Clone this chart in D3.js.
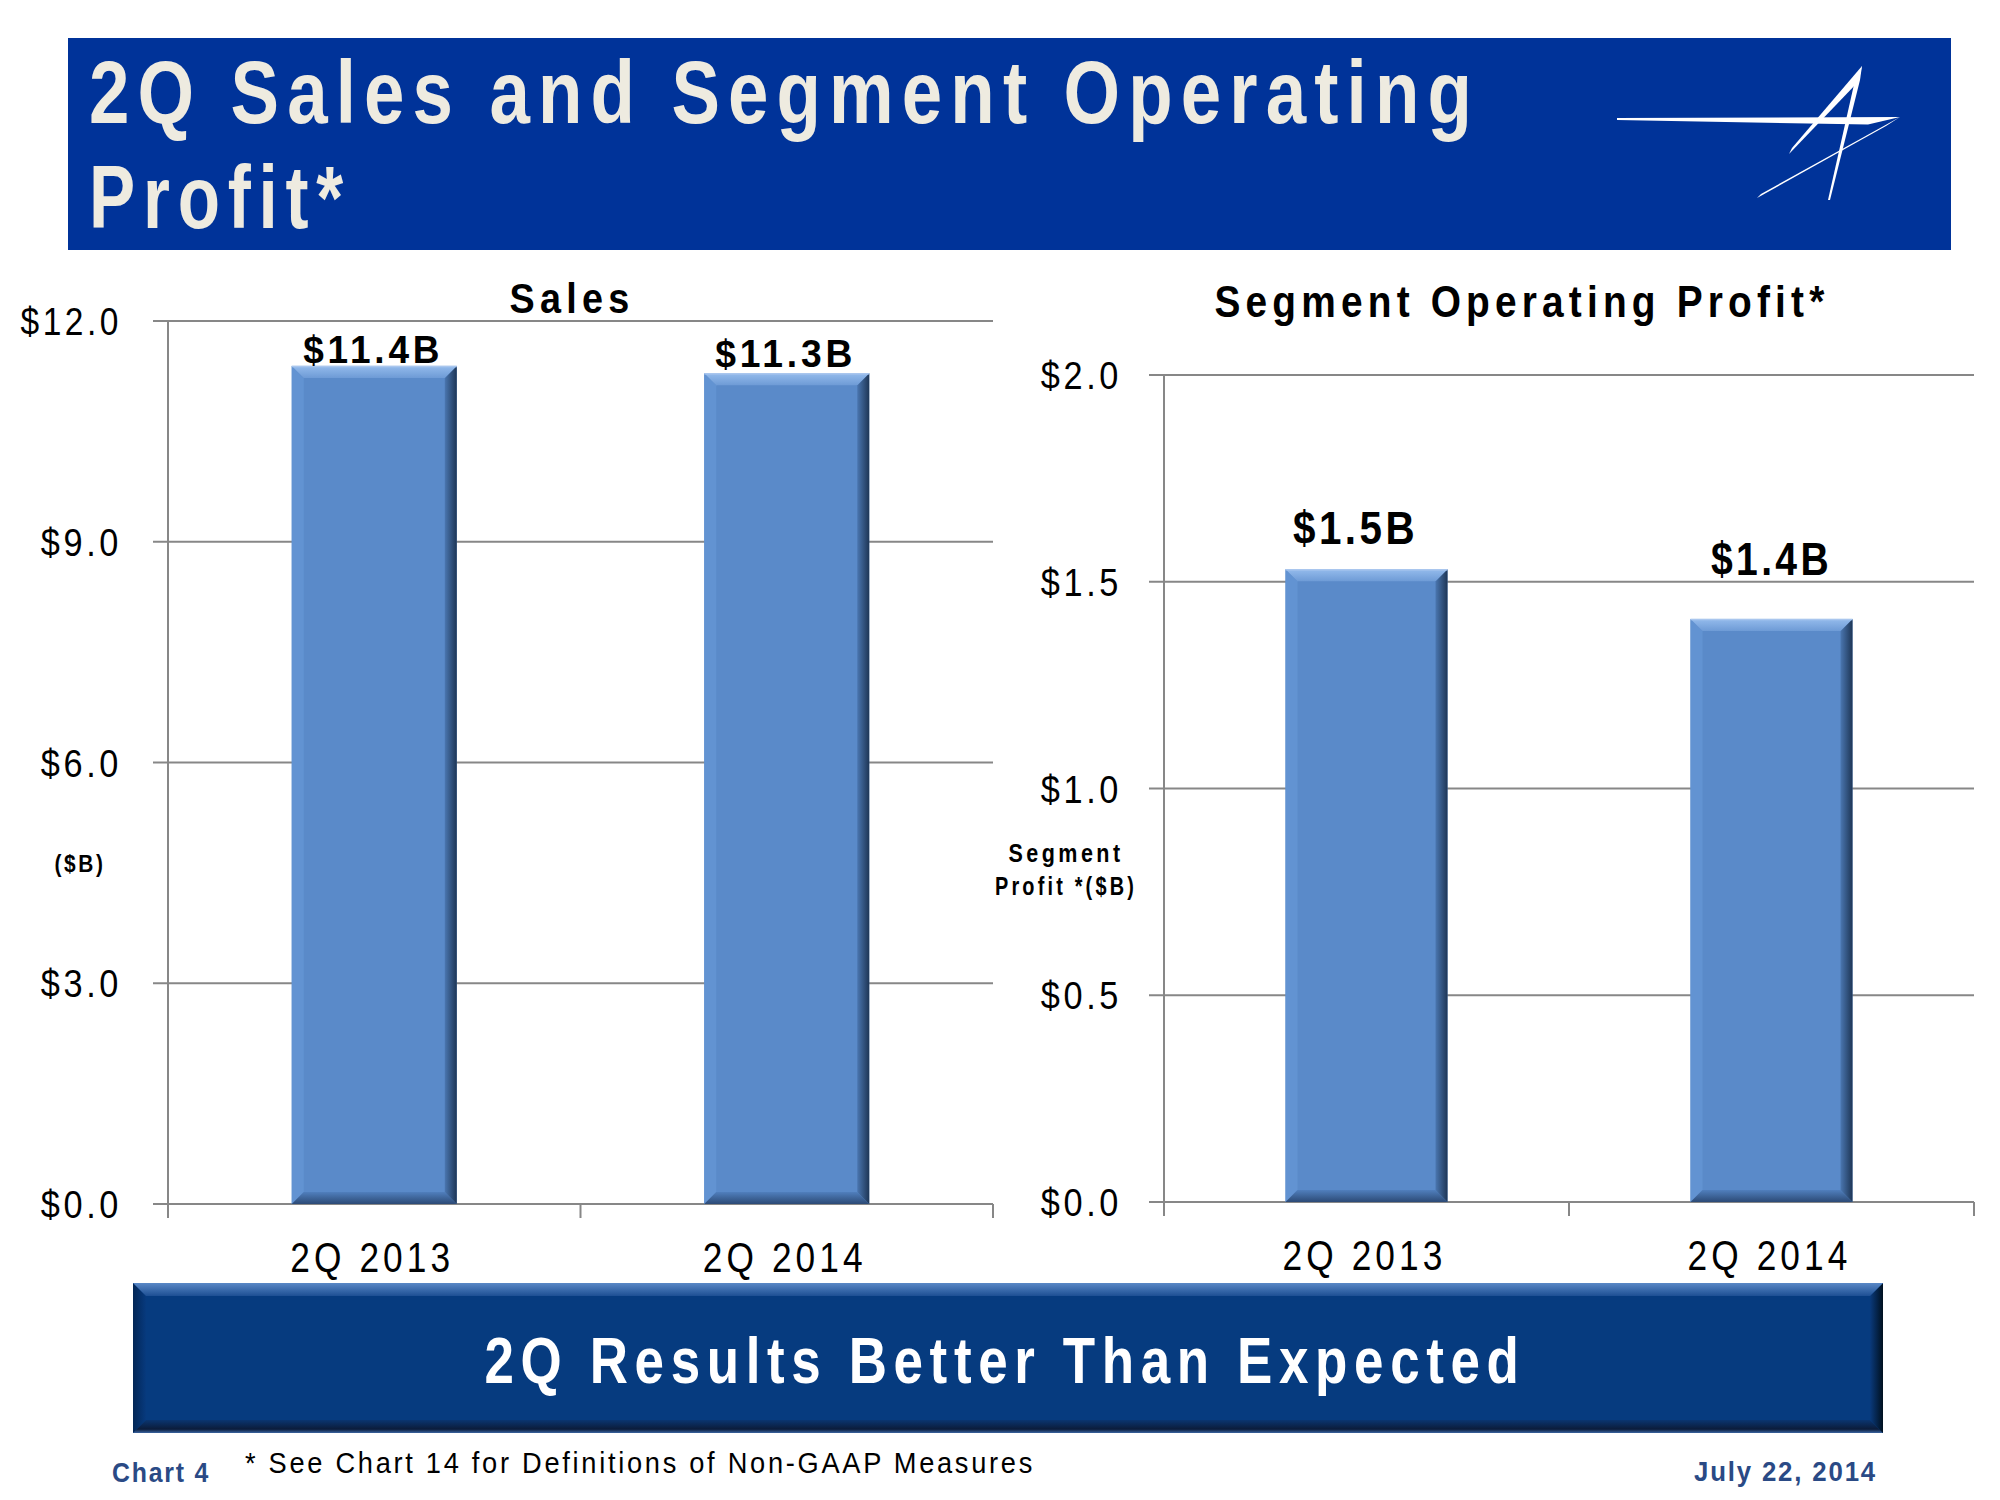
<!DOCTYPE html>
<html>
<head>
<meta charset="utf-8">
<script src="https://cdn.jsdelivr.net/npm/d3@7"></script>
<style>
  html, body { margin: 0; padding: 0; background: #ffffff; }
  svg { display: block; }
  text { font-family: "Liberation Sans Narrow", "Arial Narrow", "Liberation Sans", Arial, sans-serif; }
</style>
</head>
<body>
<svg id="chart" width="2000" height="1500"></svg>
<script>
// ---------- data ----------
const categories = ["2Q 2013", "2Q 2014"];
const salesValues = [11.39, 11.29];
const salesLabels = ["$11.4B", "$11.3B"];
const profitValues = [1.53, 1.41];
const profitLabels = ["$1.5B", "$1.4B"];
const salesTicks = [0, 3, 6, 9, 12];
const salesTickLabels = ["$0.0", "$3.0", "$6.0", "$9.0", "$12.0"];
const profitTicks = [0, 0.5, 1.0, 1.5, 2.0];
const profitTickLabels = ["$0.0", "$0.5", "$1.0", "$1.5", "$2.0"];

const titleLines = ["2Q Sales and Segment Operating", "Profit*"];
const bannerText = "2Q Results Better Than Expected";
const footnote = "* See Chart 14 for Definitions of Non-GAAP Measures";
const chartNo = "Chart 4";
const dateText = "July 22, 2014";

// ---------- setup ----------
const svg = d3.select("#chart");
const defs = svg.append("defs");

function fit(sel, w, ls) {
  sel.attr("letter-spacing", ls || 0).attr("textLength", w).attr("lengthAdjust", "spacingAndGlyphs");
  return sel;
}

function lin(id, x1, y1, x2, y2, stops) {
  const g = defs.append("linearGradient").attr("id", id)
    .attr("x1", x1).attr("y1", y1).attr("x2", x2).attr("y2", y2);
  stops.forEach(s => g.append("stop").attr("offset", s[0]).attr("stop-color", s[1]));
}
lin("barRight", 0, 0, 1, 0, [[0, "#4a76b0"], [1, "#1e3656"]]);
lin("barTop", 0, 0, 0, 1, [[0, "#94bbec"], [1, "#6e9bd6"]]);
lin("barBottom", 0, 0, 0, 1, [[0, "#507fbd"], [1, "#2c4a76"]]);
lin("banTop", 0, 0, 0, 1, [[0, "#5a88c6"], [1, "#1d4f93"]]);
lin("banBottom", 0, 0, 0, 1, [[0, "#0a3570"], [0.7, "#0b1c3a"], [1, "#3a64a0"]]);
lin("banRight", 0, 0, 1, 0, [[0, "#0a3a7c"], [1, "#00101f"]]);
lin("banLeft", 0, 0, 1, 0, [[0, "#022656"], [1, "#073a7e"]]);

// ---------- title banner ----------
svg.append("rect").attr("x", 68).attr("y", 38).attr("width", 1883).attr("height", 212)
  .attr("fill", "#003399");
svg.selectAll("text.title").data(titleLines).enter().append("text")
  .attr("class", "title")
  .attr("x", 89).attr("y", (d, i) => i === 0 ? 123 : 228)
  .attr("fill", "#eeebe0").attr("font-size", 89).attr("font-weight", "bold")
  .text(d => d)
  .each(function (d, i) { fit(d3.select(this), i === 0 ? 1391 : 262, 10); });

// logo
const logo = svg.append("g").attr("fill", "#ffffff");
[
  [[1617, 118], [1900, 117], [1868, 124.5], [1617, 120]],
  [[1900, 117], [1886, 126], [1757, 198], [1761, 194]],
  [[1862, 66], [1858, 82], [1789, 154], [1792, 148]],
  [[1862, 66], [1860, 80], [1830, 200], [1828, 200], [1855, 80]]
].forEach(p => logo.append("path").attr("d", d3.line()(p) + "Z"));

// ---------- bar drawing helper ----------
function drawBar(g, x0, x1, yTop, yBot) {
  const b = 12;
  g.append("rect").attr("x", x0).attr("y", yTop).attr("width", x1 - x0).attr("height", yBot - yTop)
    .attr("fill", "#5a8ac9");
  g.append("path").attr("d", d3.line()([[x0, yTop], [x0 + b, yTop + b], [x0 + b, yBot - b], [x0, yBot]]) + "Z")
    .attr("fill", "#6293d2");
  g.append("path").attr("d", d3.line()([[x0, yBot], [x1, yBot], [x1 - b, yBot - b], [x0 + b, yBot - b]]) + "Z")
    .attr("fill", "url(#barBottom)");
  g.append("path").attr("d", d3.line()([[x1, yTop], [x1, yBot], [x1 - b, yBot - b], [x1 - b, yTop + b]]) + "Z")
    .attr("fill", "url(#barRight)");
  g.append("path").attr("d", d3.line()([[x0, yTop], [x1, yTop], [x1 - b, yTop + b], [x0 + b, yTop + b]]) + "Z")
    .attr("fill", "url(#barTop)");
  g.append("line").attr("x1", x0).attr("x2", x1).attr("y1", yTop + 0.5).attr("y2", yTop + 0.5)
    .attr("stroke", "#a9c6ee").attr("stroke-width", 1.5);
}

// ---------- panel ----------
function panel(cfg) {
  const g = svg.append("g");
  const x = d3.scaleBand().domain(categories).range([cfg.left, cfg.right]).padding(0);
  const y = d3.scaleLinear().domain(cfg.domain).range([cfg.bottom, cfg.top]);
  const barW = x.bandwidth() * 0.4;

  // gridlines
  g.selectAll("line.grid").data(cfg.ticks).enter().append("line")
    .attr("x1", cfg.left - 15).attr("x2", cfg.right)
    .attr("y1", d => y(d)).attr("y2", d => y(d))
    .attr("stroke", "#878787").attr("stroke-width", 2);
  // vertical axis
  g.append("line").attr("x1", cfg.left).attr("x2", cfg.left)
    .attr("y1", y(cfg.domain[1])).attr("y2", cfg.bottom + 14)
    .attr("stroke", "#878787").attr("stroke-width", 2);
  // category separators
  const seps = categories.map(c => x(c) + x.bandwidth());
  g.selectAll("line.sep").data(seps).enter().append("line")
    .attr("x1", d => d).attr("x2", d => d).attr("y1", cfg.bottom).attr("y2", cfg.bottom + 14)
    .attr("stroke", "#878787").attr("stroke-width", 2);

  // y tick labels through d3 axis
  const ax = d3.axisLeft(y).tickValues(cfg.ticks).tickSize(0).tickPadding(0)
    .tickFormat((d, i) => cfg.tickLabels[i]);
  const axG = g.append("g").attr("transform", `translate(${cfg.tickRight},0)`).call(ax);
  axG.select(".domain").remove();
  axG.selectAll("text").attr("font-size", 38).attr("fill", "#000")
    .attr("font-family", "\"Liberation Sans Narrow\", \"Arial Narrow\", \"Liberation Sans\", Arial, sans-serif")
    .attr("dy", "0.36em")
    .each(function () {
      const t = d3.select(this);
      fit(t, t.text().length * 20.3, 4);
    });

  // bars
  cfg.values.forEach((v, i) => {
    const cx = x(categories[i]) + x.bandwidth() / 2;
    drawBar(g, cx - barW / 2, cx + barW / 2, y(v), y(0));
  });

  // value labels
  g.selectAll("text.vlab").data(cfg.values).enter().append("text")
    .attr("class", "vlab")
    .attr("x", (d, i) => x(categories[i]) + x.bandwidth() / 2 + cfg.labelDx[i])
    .attr("y", (d, i) => y(d) - cfg.labelGap[i])
    .attr("text-anchor", "middle").attr("font-size", cfg.labelSize).attr("font-weight", "bold")
    .text((d, i) => cfg.labels[i])
    .each(function (d, i) { fit(d3.select(this), cfg.labelW[i], 4); });

  // category labels
  g.selectAll("text.cat").data(categories).enter().append("text")
    .attr("class", "cat")
    .attr("x", d => x(d) + x.bandwidth() / 2 - 2)
    .attr("y", cfg.catY)
    .attr("text-anchor", "middle").attr("font-size", 43)
    .text(d => d)
    .each(function () { fit(d3.select(this), 164, 5); });

  // panel title
  fit(g.append("text").attr("x", cfg.titleX).attr("y", cfg.titleY)
    .attr("text-anchor", "middle").attr("font-size", cfg.titleSize).attr("font-weight", "bold")
    .text(cfg.title), cfg.titleW, 6);
  return g;
}

panel({
  left: 168, right: 993, top: 321, bottom: 1204, domain: [0, 12],
  ticks: salesTicks, tickLabels: salesTickLabels, tickRight: 122,
  values: salesValues, labels: salesLabels, labelGap: [3, 6], labelDx: [-1, -1], labelW: [140, 141], labelSize: 39,
  catY: 1272, title: "Sales", titleX: 572, titleY: 313, titleSize: 43, titleW: 125
});
panel({
  left: 1164, right: 1974, top: 375, bottom: 1202, domain: [0, 2],
  ticks: profitTicks, tickLabels: profitTickLabels, tickRight: 1122,
  values: profitValues, labels: profitLabels, labelGap: [25, 44], labelDx: [-11, 0], labelW: [125, 121], labelSize: 47,
  catY: 1270, title: "Segment Operating Profit*", titleX: 1522, titleY: 317, titleSize: 45, titleW: 615
});

// axis unit labels
fit(svg.append("text").attr("x", 80).attr("y", 872).attr("text-anchor", "middle")
  .attr("font-size", 24).attr("font-weight", "bold").text("($B)"), 51, 3);
fit(svg.append("text").attr("x", 1066).attr("y", 862).attr("text-anchor", "middle")
  .attr("font-size", 25).attr("font-weight", "bold").text("Segment"), 115, 4);
fit(svg.append("text").attr("x", 1066).attr("y", 895).attr("text-anchor", "middle")
  .attr("font-size", 25).attr("font-weight", "bold").text("Profit *($B)"), 142, 4);

// ---------- bottom banner ----------
(function () {
  const x0 = 133, x1 = 1883, y0 = 1283, y1 = 1433, b = 13;
  const g = svg.append("g");
  g.append("rect").attr("x", x0).attr("y", y0).attr("width", x1 - x0).attr("height", y1 - y0).attr("fill", "#063b7f");
  g.append("path").attr("d", d3.line()([[x0, y0], [x0 + b, y0 + b], [x0 + b, y1 - b], [x0, y1]]) + "Z").attr("fill", "url(#banLeft)");
  g.append("path").attr("d", d3.line()([[x0, y1], [x1, y1], [x1 - b, y1 - b], [x0 + b, y1 - b]]) + "Z").attr("fill", "url(#banBottom)");
  g.append("path").attr("d", d3.line()([[x1, y0], [x1, y1], [x1 - b, y1 - b], [x1 - b, y0 + b]]) + "Z").attr("fill", "url(#banRight)");
  g.append("path").attr("d", d3.line()([[x0, y0], [x1, y0], [x1 - b, y0 + b], [x0 + b, y0 + b]]) + "Z").attr("fill", "url(#banTop)");
  fit(g.append("text").attr("x", 1005).attr("y", 1383).attr("text-anchor", "middle")
    .attr("fill", "#ffffff").attr("font-size", 64).attr("font-weight", "bold")
    .text(bannerText), 1041, 8);
})();

// ---------- footer ----------
fit(svg.append("text").attr("x", 112).attr("y", 1482).attr("font-size", 28).attr("font-weight", "bold")
  .attr("fill", "#2a4a85").text(chartNo), 98, 2);
fit(svg.append("text").attr("x", 245).attr("y", 1473).attr("font-size", 30)
  .attr("fill", "#000").text(footnote), 790, 3);
fit(svg.append("text").attr("x", 1877).attr("y", 1481).attr("text-anchor", "end").attr("font-size", 28).attr("font-weight", "bold")
  .attr("fill", "#2a4a85").text(dateText), 183, 2);
</script>
</body>
</html>
